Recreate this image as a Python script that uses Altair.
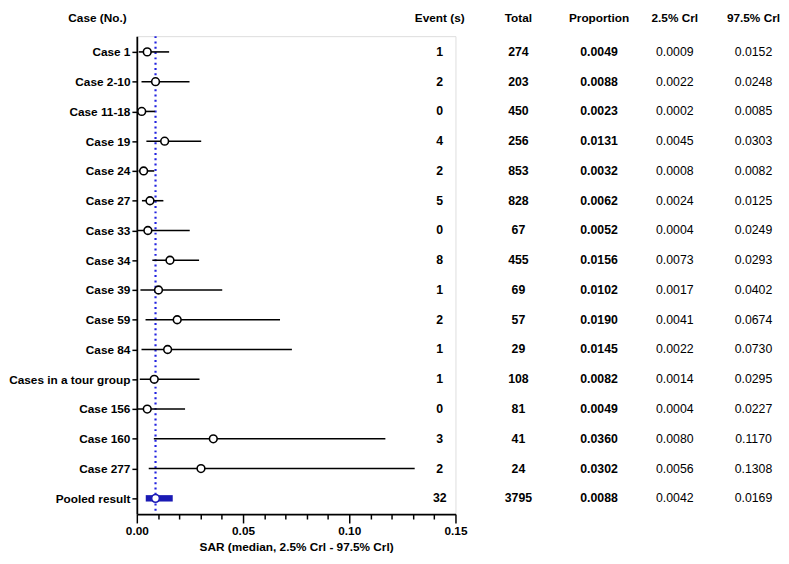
import altair as alt
import pandas as pd

cases = ["Case 1", "Case 2-10", "Case 11-18", "Case 19", "Case 24", "Case 27",
         "Case 33", "Case 34", "Case 39", "Case 59", "Case 84",
         "Cases in a tour group", "Case 156", "Case 160", "Case 277", "Pooled result"]
events = [1, 2, 0, 4, 2, 5, 0, 8, 1, 2, 1, 1, 0, 3, 2, 32]
totals = [274, 203, 450, 256, 853, 828, 67, 455, 69, 57, 29, 108, 81, 41, 24, 3795]
proportion = [0.0049, 0.0088, 0.0023, 0.0131, 0.0032, 0.0062, 0.0052, 0.0156,
              0.0102, 0.0190, 0.0145, 0.0082, 0.0049, 0.0360, 0.0302, 0.0088]
lower = [0.0009, 0.0022, 0.0002, 0.0045, 0.0008, 0.0024, 0.0004, 0.0073,
         0.0017, 0.0041, 0.0022, 0.0014, 0.0004, 0.0080, 0.0056, 0.0042]
upper = [0.0152, 0.0248, 0.0085, 0.0303, 0.0082, 0.0125, 0.0249, 0.0293,
         0.0402, 0.0674, 0.0730, 0.0295, 0.0227, 0.1170, 0.1308, 0.0169]
pooled_value = 0.0088
x_ticks = [0.00, 0.01, 0.02, 0.03, 0.04, 0.05, 0.06, 0.07, 0.08, 0.09,
           0.10, 0.11, 0.12, 0.13, 0.14, 0.15]
headers = ["Case (No.)", "Event (s)", "Total", "Proportion", "2.5% Crl", "97.5% Crl"]

df = pd.DataFrame({
    "case": cases, "events": events, "total": totals,
    "prop": proportion, "lo": lower, "hi": upper,
})
df["pooled"] = df["case"] == "Pooled result"

FONT = "Liberation Sans"
BLUE = "#1a1ab4"
DOT = "#2323e0"

W, H = 324, 486

y_enc = alt.Y("case:N", sort=cases, title=None,
              scale=alt.Scale(type="point", padding=0.53),
              axis=alt.Axis(labelFont=FONT, labelFontSize=12, labelFontWeight="bold",
                            labelColor="black", tickColor="black", tickSize=5,
                            tickWidth=1.5, domainColor="black", domainWidth=1.8,
                            labelPadding=2, grid=False))

major = "round(datum.value*100) % 5 == 0"
x_scale = alt.Scale(domain=[0, 0.15], nice=False, zero=True)
x_axis = alt.Axis(values=x_ticks, labelExpr=f"{major} ? format(datum.value, '.2f') : ''",
                  tickSize={"condition": {"test": major, "value": 9}, "value": 5},
                  tickWidth=1.5, tickColor="black", domainColor="black", domainWidth=1.8,
                  labelFont=FONT, labelFontSize=12, labelFontWeight="bold", labelColor="black",
                  labelPadding=3, title="SAR (median, 2.5% Crl - 97.5% Crl)",
                  titleFont=FONT, titleFontSize=12, titleFontWeight="bold", titleColor="black",
                  titlePadding=5, grid=False, labelFlush=False)

base = alt.Chart(df)

dotted = alt.Chart(pd.DataFrame({"v": [pooled_value]})).mark_rule(
    color=DOT, strokeDash=[2, 3.4], strokeWidth=2.2
).encode(x=alt.X("v:Q", scale=x_scale, axis=x_axis))

ci = base.transform_filter("!datum.pooled").mark_rule(color="black", strokeWidth=1.6).encode(
    x=alt.X("lo:Q", scale=x_scale, axis=x_axis), x2="hi:Q", y=y_enc)

pooled_bar = base.transform_filter("datum.pooled").mark_rule(
    color=BLUE, strokeWidth=6.5, strokeCap="butt").encode(
    x=alt.X("lo:Q", scale=x_scale, axis=x_axis), x2="hi:Q", y=y_enc)

pts = base.mark_point(filled=True, fill="white", size=62, strokeWidth=1.6, opacity=1).encode(
    x=alt.X("prop:Q", scale=x_scale, axis=x_axis), y=y_enc,
    stroke=alt.condition("datum.pooled", alt.value(BLUE), alt.value("black")))

col_x = [308, 388, 470, 547, 627]
fields = [("events", None, "bold"), ("total", None, "bold"), ("prop", ".4f", "bold"),
          ("lo", ".4f", "normal"), ("hi", ".4f", "normal")]
cols = []
for cx, (f, fmt, fw) in zip(col_x, fields):
    txt = alt.Text(f"{f}:Q", format=fmt) if fmt else alt.Text(f"{f}:Q")
    cols.append(base.mark_text(font=FONT, fontSize=12.5, fontWeight=fw, color="black",
                               align="center", baseline="middle").encode(
        x=alt.value(cx), y=y_enc, text=txt))

hdr_x = [-40, 308, 388, 470, 547, 627]
hdrs = []
for hx, h in zip(hdr_x, headers):
    hdrs.append(alt.Chart(alt.Data(values=[{}])).mark_text(
        text=h, font=FONT, fontSize=12, fontWeight="bold", color="black",
        align="center", baseline="middle").encode(x=alt.value(hx), y=alt.value(-18)))

chart = alt.layer(dotted, ci, pooled_bar, pts, *cols, *hdrs).properties(
    width=W, height=H, padding={"left": 0, "top": 0, "right": 0, "bottom": 0}
).configure_view(stroke=None).configure(background="white")

chart.save("out.html", embed_options={"renderer": "svg", "actions": False})
